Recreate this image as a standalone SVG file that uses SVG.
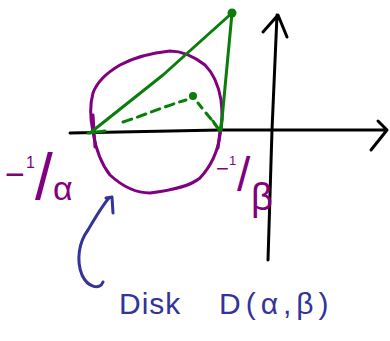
<svg xmlns="http://www.w3.org/2000/svg" width="390" height="341" viewBox="0 0 390 341">
<style>
.ln{fill:none;stroke-linecap:round;stroke-linejoin:round}
.k{stroke:#000;stroke-width:3}
.pu{stroke:#800080;stroke-width:3}
.gr{stroke:#0a7d0a;stroke-width:3}
.bl{stroke:#333399;stroke-width:3}
.dash{stroke-dasharray:9 6}
.tp{fill:#800080;font-family:"Liberation Sans",Arial,sans-serif}
.tb{fill:#333399;font-family:"Liberation Sans",Arial,sans-serif;font-size:30px}
</style>
<rect width="390" height="341" fill="#fff"/>
<g id="axes">
<path class="ln k" d="M70,133 L220,130 L387,130 M378,121 L387,130 L371,150"/>
<path class="ln k" d="M268,260 L272,130 L277,15 M263,32 L278,15 L287,37"/>
</g>
<g id="disk">
<path class="ln pu" d="M93,132 C90,118 90,104 93,93 C97,82 108,72 120,65 C135,57 150,53 170,51 C182,51 192,55 205,65 C214,74 219,88 221,100 C223,115 222,125 220,135 C218,150 212,165 200,178 C190,186 175,190 150,193 C135,193 122,186 110,175 C102,165 96,150 93,132 Z"/>
<path class="ln pu" d="M93,115 L95,147 M220,131 L218,148"/>
</g>
<g id="triangle">
<path class="ln gr" d="M90,133 L163,75 L232,13 L221,130 M88,133 L105,131"/>
<circle cx="232" cy="13" r="4.5" fill="#0a7d0a"/>
<circle cx="193" cy="96" r="4" fill="#0a7d0a"/>
<path class="ln gr dash" d="M123,122 C145,115 165,106 186,100"/>
<path class="ln gr" d="M198,103 L202,108 M206,113 L211,119 M214,123 L220,131 M213,121 L220,131 L222,119"/>
</g>
<g id="labels">
<text class="tp"><tspan x="5" y="186" font-size="34">−</tspan><tspan x="26" y="168" font-size="16">1</tspan><tspan x="35" y="199" font-size="64">/</tspan><tspan x="53" y="200" font-size="34">α</tspan></text>
<text class="tp"><tspan x="216" y="176" font-size="22">−</tspan><tspan x="229" y="165" font-size="13">1</tspan><tspan x="237" y="191" font-size="48">/</tspan><tspan x="251" y="210" font-size="38">β</tspan></text>
</g>
<g id="callout">
<path class="ln bl" d="M103,282 C100,290 88,288 82,275 C76,260 79,242 88,230 C95,218 102,206 109,198 M106,198 L112,197 L113,213"/>
<text class="tb" x="119" y="314" letter-spacing="1">Disk</text>
<text class="tb" x="219" y="314" letter-spacing="5">D(α,β)</text>
</g>
</svg>
